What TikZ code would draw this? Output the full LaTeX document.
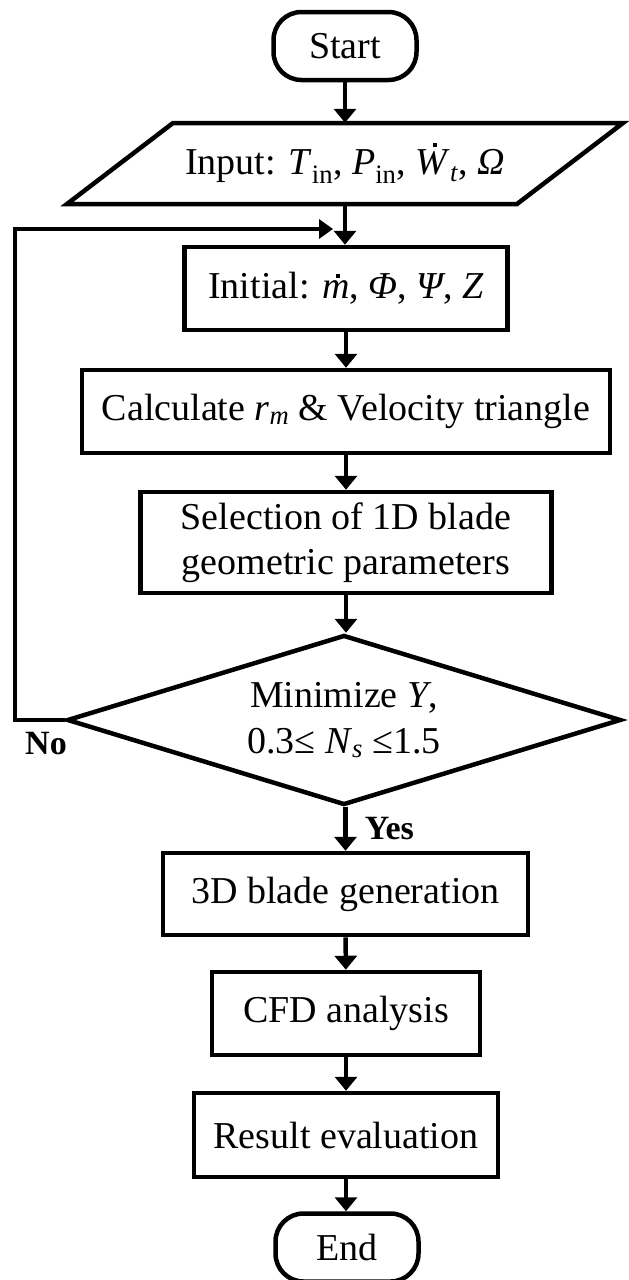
\documentclass[tikz,border=0pt]{standalone}
\usepackage{fontspec}
\setmainfont{Liberation Serif}
\usetikzlibrary{arrows.meta,shapes.geometric}
% a letter with a small dot placed over it (time derivative)
\newcommand\overdot[3]{\makebox[0pt][l]{\hspace{#2}\raisebox{#3}{\rule{0.1em}{0.1em}}}#1}
\begin{document}
\begin{tikzpicture}[x=1pt,y=-1pt,
  txt/.style={font=\fontsize{38}{46}\selectfont, inner sep=0pt, align=center},
  procbox/.style={txt, draw, rectangle, line width=4.5pt},
  termbox/.style={txt, draw, rectangle, rounded corners=28pt, line width=4.5pt,
                  minimum width=143pt, minimum height=68pt},
  decbox/.style={txt, draw, diamond, aspect=3.25, line width=4.5pt,
                 minimum width=554pt, minimum height=170pt},
  flow/.style={line width=4.5pt, -{Triangle[length=14pt,width=22pt]}},
  looparrow/.style={line width=4.5pt, line join=miter, -{Triangle[length=14pt,width=19pt]}},
  lab/.style={font=\fontsize{34}{40}\selectfont\bfseries, inner sep=0pt}]
\useasboundingbox (0,0) rectangle (629,1280);

% terminals and steps
\node[termbox] (start) at (345,46) {Start};
\node[txt, minimum height=81pt] (inp) at (345,163.5)
  {Input: \textit{T}\textsubscript{in}, \textit{P}\textsubscript{in}, \overdot{\textit{W}}{0.47em}{0.74em}\textsubscript{\textit{t}}, \textit{Ω}};
\draw[line width=4.5pt, line join=miter] (173,123) -- (623,123) -- (517,204) -- (67,204) -- cycle;
\node[procbox, minimum width=323pt, minimum height=83pt] (init) at (346,288.5)
  {Initial: \overdot{\textit{m}}{0.36em}{0.55em}, \textit{Φ}, \textit{Ψ}, \textit{Z}};
\node[procbox, minimum width=528pt, minimum height=83pt] (calc) at (346,411.5)
  {Calculate \textit{r}\textsubscript{\textit{m}} \& Velocity triangle};
\node[procbox, minimum width=411pt, minimum height=101pt, font=\fontsize{38}{45}\selectfont] (sel) at (346,542.5)
  {Selection of 1D blade\\geometric parameters};
\node[decbox] (dec) at (344,720)
  {Minimize \textit{Y},\\0.3≤ \textit{N}\textsubscript{\textit{s}} ≤1.5};
\node[procbox, minimum width=365pt, minimum height=82pt] (blade) at (345.5,894)
  {3D blade generation};
\node[procbox, minimum width=268pt, minimum height=83pt] (cfd) at (346,1013.5)
  {CFD analysis};
\node[procbox, minimum width=304pt, minimum height=84pt] (res) at (346,1135)
  {Result evaluation};
\node[termbox] (end) at (347,1247.5) {End};

% connectors
\draw[flow] (start.south) -- (start.south |- inp.north);
\draw[flow] (inp.south) -- (inp.south |- init.north);
\draw[flow] (init) -- (calc);
\draw[flow] (calc) -- (sel);
\draw[flow] (sel.south) -- (sel.south |- dec.north);
\draw[flow] (dec.south -| blade.north) -- node[lab, right=17pt] (yes) {Yes} (blade.north);
\draw[flow] (blade) -- (cfd);
\draw[flow] (cfd) -- (res);
\draw[flow] (res.south) -- (res.south |- end.north);

% loop back when the criterion is not met
\coordinate (loopin) at (333,229);
\draw[looparrow] (dec.west) -- ++(-50,0) |- (loopin);
\node[lab] (no) at (46,744) {No};
\end{tikzpicture}
\end{document}
